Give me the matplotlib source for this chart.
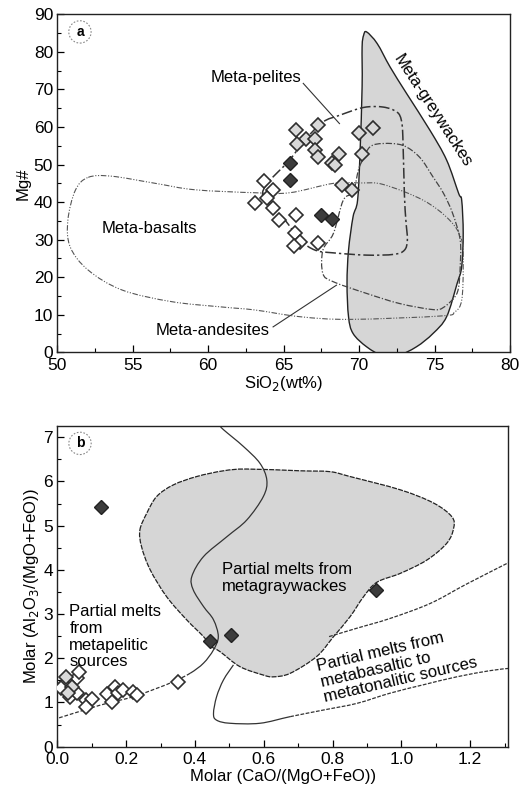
import numpy as np
import matplotlib
matplotlib.use("Agg")
import matplotlib.pyplot as plt
from matplotlib.path import Path
from matplotlib.patches import PathPatch
from matplotlib.ticker import MultipleLocator, FormatStrFormatter

plt.rcParams['font.family'] = ['Liberation Sans', 'DejaVu Sans']

# ---------------- Panel a: SiO2 vs Mg# ----------------
a_light_sio2 = [65.8, 67.3, 66.5, 65.9, 67.1, 67.1, 67.3, 68.7, 68.2, 68.4, 70.0, 70.9, 70.2, 68.9, 69.5]
a_light_mg = [59.1, 60.5, 56.9, 55.6, 56.7, 54.0, 52.0, 52.8, 50.3, 49.8, 58.4, 59.6, 52.9, 44.5, 43.2]
a_white_sio2 = [63.7, 64.3, 63.1, 63.9, 64.3, 64.7, 65.8, 65.75, 66.1, 65.7, 67.3]
a_white_mg = [45.6, 43.2, 39.9, 41.0, 38.5, 35.2, 36.5, 31.8, 29.4, 28.4, 29.2]
a_dark_sio2 = [65.4, 65.4, 67.5, 68.2]
a_dark_mg = [50.5, 45.8, 36.7, 35.4]

basalt_x = [52.05, 53.6, 56.5, 59.1, 63.1, 65.4, 68.3, 70.1, 71.6, 74.25, 76.0, 76.8, 76.9, 76.8,
            76.35, 75.4, 69.4, 66.1, 63.1, 60.9, 57.6, 54.3, 52.05, 50.85, 50.7, 51.2]
basalt_y = [46.6, 46.9, 45.0, 43.3, 42.5, 42.5, 45.0, 45.1, 44.7, 40.5, 35.2, 29.9, 22.8, 13.9,
            10.8, 9.7, 8.8, 9.5, 11.3, 12.1, 13.5, 16.6, 21.9, 28.1, 35.2, 43.2]

andesite_x = [70.17, 70.72, 71.6, 72.9, 74.0, 74.9, 75.6, 76.2, 76.7, 76.7, 76.6, 76.35, 75.6, 74.9,
              72.7, 70.5, 68.3, 67.6, 67.6, 68.3, 68.95, 69.6, 69.95]
andesite_y = [50.7, 54.7, 55.6, 55.1, 52.0, 46.7, 42.3, 37.0, 29.9, 22.8, 17.5, 14.8, 12.0, 11.4,
              13.0, 15.7, 18.8, 21.0, 27.2, 31.7, 40.5, 42.7, 48.5]

pelite_x = [63.6, 65.4, 66.4, 67.6, 68.7, 70.3, 71.6, 72.5, 72.8, 72.9, 73.0, 73.1, 73.2, 73.0,
            72.3, 70.5, 68.3, 67.1, 66.1, 65.1]
pelite_y = [42.4, 51.2, 56.5, 61.3, 63.1, 65.2, 65.3, 64.0, 61.8, 57.4, 42.3, 35.2, 29.9, 27.2,
            26.1, 25.9, 26.5, 27.2, 29.9, 35.2]

greywacke_x = [70.5, 71.2, 72.05, 73.15, 74.7, 75.8, 76.6, 76.8, 76.9, 76.8, 76.5, 75.8, 74.9, 73.8,
               72.5, 71.6, 70.5, 69.6, 69.3, 69.2, 69.3, 69.6, 69.9, 70.06, 70.2, 70.2, 70.3]
greywacke_y = [85.3, 82.2, 76.0, 68.9, 59.1, 51.2, 42.3, 40.5, 31.7, 22.8, 18.4, 9.5, 5.05, 1.5,
               -1.0, -1.0, 1.5, 5.05, 9.5, 18.4, 27.2, 36.1, 40.5, 52.9, 70.7, 81.3, 84.4]

# ---------------- Panel b: molar ratios ----------------
b_white_cao = [0.018, 0.056, 0.063, 0.037, 0.056, 0.083, 0.100, 0.083, 0.145, 0.168, 0.158, 0.177,
               0.192, 0.221, 0.231, 0.352, 0.012]
b_white_al = [1.40, 1.55, 1.70, 1.13, 1.22, 1.06, 1.07, 0.90, 1.19, 1.36, 1.02, 1.21,
              1.28, 1.24, 1.17, 1.46, 1.32]
b_light_cao = [0.024, 0.042, 0.032]
b_light_al = [1.58, 1.36, 1.21]
b_dark_cao = [0.127, 0.444, 0.505, 0.927]
b_dark_al = [5.43, 2.38, 2.53, 3.55]

graywacke_melt_x = [0.240, 0.260, 0.289, 0.337, 0.405, 0.483, 0.551, 0.706, 0.793, 0.851, 0.997,
                    1.094, 1.147, 1.152, 1.132, 1.074, 0.997, 0.929, 0.890, 0.851, 0.803, 0.754,
                    0.677, 0.628, 0.599, 0.531, 0.473, 0.449, 0.425, 0.376, 0.318, 0.270, 0.245]
graywacke_melt_y = [4.90, 5.28, 5.66, 5.92, 6.11, 6.24, 6.28, 6.24, 6.22, 6.11, 5.81,
                    5.51, 5.20, 4.94, 4.60, 4.22, 3.92, 3.72, 3.39, 2.94, 2.49, 2.04,
                    1.66, 1.58, 1.62, 1.81, 2.15, 2.26, 2.49, 2.87, 3.39, 4.00, 4.52]

# metapelitic boundary: S-shaped upper part, then the trend through the low-ratio samples
pelitic_x = [0.473, 0.483, 0.541, 0.589, 0.609, 0.599, 0.551, 0.493, 0.425, 0.391, 0.395,
             0.425, 0.454, 0.468, 0.454, 0.425, 0.386, 0.337, 0.289, 0.221, 0.144, 0.095, 0.0]
pelitic_y = [7.26, 7.17, 6.79, 6.41, 6.03, 5.66, 5.13, 4.75, 4.30, 3.85, 3.55,
             3.17, 2.87, 2.49, 2.19, 1.89, 1.66, 1.47, 1.32, 1.13, 0.98, 0.87, 0.64]
pelitic_dash_from = 16

basaltic_upper_x = [0.790, 0.871, 0.967, 1.084, 1.190, 1.311]
basaltic_upper_y = [2.49, 2.68, 2.90, 3.24, 3.68, 4.16]
basaltic_lower_x = [0.512, 0.483, 0.463, 0.454, 0.463, 0.502, 0.589, 0.677, 0.774, 0.871, 0.967,
                    1.064, 1.161, 1.258, 1.311]
basaltic_lower_y = [1.85, 1.51, 1.13, 0.75, 0.60, 0.53, 0.53, 0.68, 0.83, 0.98, 1.21,
                    1.40, 1.58, 1.72, 1.77]
basaltic_dash_from = 7


def bezier_segments(xs, ys, closed=False):
    """Catmull-Rom through the vertices, as cubic Bezier segments (p1, c1, c2, p2)."""
    pts = np.column_stack([xs, ys]).astype(float)
    n = len(pts)
    if closed:
        ext = np.vstack([pts[-1], pts, pts[0], pts[1]])
        nseg = n
    else:
        ext = np.vstack([pts[0], pts, pts[-1]])
        nseg = n - 1
    segs = []
    for i in range(nseg):
        p0, p1, p2, p3 = ext[i], ext[i + 1], ext[i + 2], ext[i + 3]
        segs.append((p1, p1 + (p2 - p0) / 6.0, p2 - (p3 - p1) / 6.0, p2))
    return segs


def segs_to_path(segs, closed=False):
    verts = [segs[0][0]]
    codes = [Path.MOVETO]
    for _, c1, c2, p2 in segs:
        verts += [c1, c2, p2]
        codes += [Path.CURVE4] * 3
    if closed:
        verts.append(segs[0][0])
        codes.append(Path.CLOSEPOLY)
    return Path(np.array(verts), codes)


def outline(ax, xs, ys, **kw):
    kw.setdefault('facecolor', 'none')
    patch = PathPatch(segs_to_path(bezier_segments(xs, ys, True), True), **kw)
    ax.add_patch(patch)
    return patch


def curve(ax, xs, ys, split, solid_kw, dash_kw):
    segs = bezier_segments(xs, ys, False)
    if split > 0:
        ax.add_patch(PathPatch(segs_to_path(segs[:split]), facecolor='none', **solid_kw))
    if split < len(segs):
        ax.add_patch(PathPatch(segs_to_path(segs[split:]), facecolor='none', **dash_kw))


EDGE = '#2e2e2e'
LIGHT = '#d9d9d9'
DARK = '#3c3c3c'
FIELD = '#d6d6d6'
MS = 7.6

fig = plt.figure(figsize=(5.23, 7.92), dpi=100)
ax1 = fig.add_axes([0.1096, 0.555, 0.8655, 0.427])
ax2 = fig.add_axes([0.1096, 0.0572, 0.8623, 0.4053])

# ----- panel a -----
outline(ax1, greywacke_x, greywacke_y, facecolor=FIELD, edgecolor='#222222', lw=1.0, zorder=1)
outline(ax1, basalt_x, basalt_y, edgecolor='#555555', lw=0.8, linestyle=(0, (5, 1.5, 1, 1.5, 1, 1.5)), zorder=2)
outline(ax1, andesite_x, andesite_y, edgecolor='#444444', lw=0.9, linestyle=(0, (5, 1.5, 1, 1.5)), zorder=2)
outline(ax1, pelite_x, pelite_y, edgecolor='#333333', lw=1.1, linestyle=(0, (7, 2, 1.5, 2)), zorder=2)

ax1.plot(a_white_sio2, a_white_mg, 'D', ms=MS, mfc='white', mec=EDGE, mew=1.2, ls='none', zorder=4)
ax1.plot(a_light_sio2, a_light_mg, 'D', ms=MS, mfc=LIGHT, mec=EDGE, mew=1.2, ls='none', zorder=4)
ax1.plot(a_dark_sio2, a_dark_mg, 'D', ms=MS, mfc=DARK, mec='#222222', mew=1.0, ls='none', zorder=4)

ax1.set_xlim(50, 80)
ax1.set_ylim(0, 90)
ax1.xaxis.set_major_locator(MultipleLocator(5))
ax1.xaxis.set_minor_locator(MultipleLocator(2.5))
ax1.yaxis.set_major_locator(MultipleLocator(10))
ax1.yaxis.set_minor_locator(MultipleLocator(5))

fs_text = 12
ax1.text(63.2, 73.2, 'Meta-pelites', fontsize=fs_text, ha='center', va='center', zorder=5)
ax1.plot([66.3, 68.7], [71.6, 60.9], color='#333333', lw=0.8, zorder=3)
ax1.text(56.1, 33.0, 'Meta-basalts', fontsize=fs_text, ha='center', va='center', zorder=5)
ax1.text(60.3, 5.9, 'Meta-andesites', fontsize=fs_text, ha='center', va='center', zorder=5)
ax1.plot([64.3, 68.5], [6.8, 17.9], color='#333333', lw=0.8, zorder=3)
ax1.text(74.85, 64.3, 'Meta-greywackes', fontsize=fs_text, ha='center', va='center',
         rotation=-57, rotation_mode='anchor', zorder=5)
ax1.text(51.5, 85.3, 'a', fontsize=10, fontweight='bold', ha='center', va='center', zorder=5,
         bbox=dict(boxstyle='circle,pad=0.3', fc='white', ec='#888888', ls=(0, (1.5, 1.5)), lw=0.8))

ax1.set_xlabel('SiO$_2$(wt%)', fontsize=12, labelpad=1)
ax1.set_ylabel('Mg#', fontsize=12, labelpad=2)

# ----- panel b -----
ax2.add_patch(PathPatch(segs_to_path(bezier_segments(basaltic_upper_x, basaltic_upper_y)),
                        facecolor='none', edgecolor='#333333', lw=0.9, linestyle=(0, (3, 1.2)), zorder=2))
curve(ax2, basaltic_lower_x, basaltic_lower_y, basaltic_dash_from,
      dict(edgecolor='#333333', lw=0.9, zorder=2),
      dict(edgecolor='#333333', lw=0.9, linestyle=(0, (3, 1.2)), zorder=2))
outline(ax2, graywacke_melt_x, graywacke_melt_y, facecolor=FIELD, edgecolor='#222222', lw=0.9,
        linestyle=(0, (4, 1)), zorder=1)
curve(ax2, pelitic_x, pelitic_y, pelitic_dash_from,
      dict(edgecolor='#333333', lw=0.9, zorder=2),
      dict(edgecolor='#333333', lw=0.9, linestyle=(0, (3, 1.5)), zorder=2))

ax2.plot(b_white_cao, b_white_al, 'D', ms=MS, mfc='white', mec=EDGE, mew=1.2, ls='none', zorder=4)
ax2.plot(b_light_cao, b_light_al, 'D', ms=MS, mfc=LIGHT, mec=EDGE, mew=1.2, ls='none', zorder=4)
ax2.plot(b_dark_cao, b_dark_al, 'D', ms=MS, mfc=DARK, mec='#222222', mew=1.0, ls='none', zorder=4)

ax2.set_xlim(0, 1.311)
ax2.set_ylim(0, 7.26)
ax2.xaxis.set_major_locator(MultipleLocator(0.2))
ax2.xaxis.set_minor_locator(MultipleLocator(0.1))
ax2.xaxis.set_major_formatter(FormatStrFormatter('%.1f'))
ax2.yaxis.set_major_locator(MultipleLocator(1))
ax2.yaxis.set_minor_locator(MultipleLocator(0.5))

ax2.text(0.478, 3.82, 'Partial melts from\nmetagraywackes', fontsize=fs_text, ha='left', va='center',
         linespacing=1.15, zorder=5)
ax2.text(0.035, 2.49, 'Partial melts\nfrom\nmetapelitic\nsources', fontsize=fs_text, ha='left',
         va='center', linespacing=1.15, zorder=5)
ax2.text(0.778, 1.03, 'Partial melts from\nmetabasaltic to\nmetatonalitic sources', fontsize=fs_text,
         ha='left', va='baseline', rotation=13, rotation_mode='anchor', linespacing=1.08, zorder=5)
ax2.text(0.066, 6.86, 'b', fontsize=10, fontweight='bold', ha='center', va='center', zorder=5,
         bbox=dict(boxstyle='circle,pad=0.3', fc='white', ec='#888888', ls=(0, (1.5, 1.5)), lw=0.8))

ax2.set_xlabel('Molar (CaO/(MgO+FeO))', fontsize=12, labelpad=1)
ax2.set_ylabel('Molar (Al$_2$O$_3$/(MgO+FeO))', fontsize=12, labelpad=2)

for ax in (ax1, ax2):
    for s in ax.spines.values():
        s.set_linewidth(1.0)
        s.set_color('#222222')
    ax.tick_params(which='both', direction='in', top=False, right=False, labelsize=12.5)
    ax.tick_params(which='major', length=5, width=0.9)
    ax.tick_params(which='minor', length=3, width=0.8)
    ax.tick_params(axis='x', which='major', pad=4)
    ax.tick_params(axis='y', which='major', pad=3)

fig.savefig('out.png', dpi=100, facecolor='white')
